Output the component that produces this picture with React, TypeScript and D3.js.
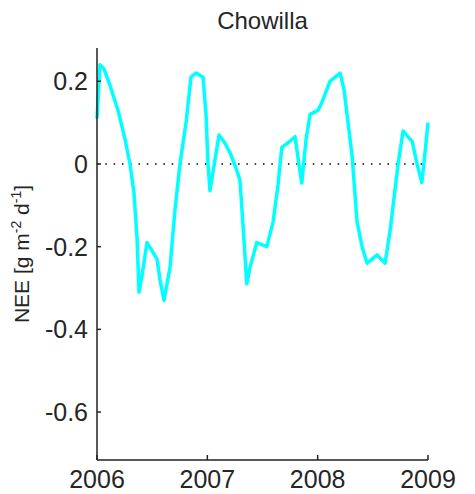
import { useEffect, useRef } from "react"
import * as d3 from "d3"

// decimal year of each sample
const years = [
  2006.0, 2006.027, 2006.063, 2006.118, 2006.19, 2006.254, 2006.299, 2006.335, 2006.363, 2006.381,
  2006.408, 2006.453, 2006.499, 2006.544, 2006.571, 2006.607, 2006.662, 2006.707, 2006.752, 2006.807,
  2006.852, 2006.897, 2006.961, 2006.988, 2007.006, 2007.024, 2007.051, 2007.106, 2007.16, 2007.206,
  2007.267, 2007.296, 2007.324, 2007.357, 2007.387, 2007.448, 2007.539, 2007.596, 2007.641, 2007.675,
  2007.75, 2007.795, 2007.83, 2007.856, 2007.895, 2007.931, 2008.004, 2008.04, 2008.112, 2008.203,
  2008.239, 2008.266, 2008.312, 2008.357, 2008.403, 2008.448, 2008.493, 2008.539, 2008.611, 2008.657,
  2008.684, 2008.729, 2008.774, 2008.82, 2008.856, 2008.901, 2008.944, 2008.974, 2009.0,
]

const nee = [
  0.11, 0.24, 0.23, 0.19, 0.13, 0.06, 0.0, -0.07, -0.18, -0.31,
  -0.27, -0.19, -0.21, -0.23, -0.28, -0.33, -0.25, -0.11, 0.0, 0.1,
  0.21, 0.22, 0.21, 0.12, 0.0, -0.065, -0.02, 0.07, 0.05, 0.027,
  -0.015, -0.04, -0.15, -0.29, -0.25, -0.19, -0.2, -0.14, -0.05, 0.04,
  0.055, 0.066, 0.0, -0.046, 0.06, 0.12, 0.13, 0.15, 0.2, 0.22,
  0.18, 0.12, 0.02, -0.14, -0.2, -0.24, -0.23, -0.22, -0.24, -0.16,
  -0.1, 0.0, 0.08, 0.065, 0.055, 0.0, -0.045, 0.03, 0.1,
]

const xTicks = [2006, 2007, 2008, 2009]
const yTicks = [0.2, 0, -0.2, -0.4, -0.6]
const yTickLabels = ["0.2", "0", "-0.2", "-0.4", "-0.6"]

export default function App() {
  const svgRef = useRef<SVGSVGElement | null>(null)

  useEffect(() => {
    if (!svgRef.current) return
    const svg = d3.select(svgRef.current)
    svg.selectAll("*").remove()

    const width = 475
    const height = 494
    const left = 97
    const right = 428
    const top = 48
    const bottom = 460
    const font = "Arial, 'Liberation Sans', sans-serif"
    const textColor = "#262626"

    svg.attr("width", width).attr("height", height).attr("viewBox", `0 0 ${width} ${height}`)

    const x = d3.scaleLinear().domain([2006, 2009]).range([left, right])
    const y = d3.scaleLinear().domain([-0.716, 0.2805]).range([bottom, top])

    // zero reference line
    svg
      .append("line")
      .attr("x1", left)
      .attr("x2", right)
      .attr("y1", y(0))
      .attr("y2", y(0))
      .attr("stroke", "#000")
      .attr("stroke-width", 1.5)
      .attr("stroke-dasharray", "1.5 6.8")

    const data = years.map((t, i) => [t, nee[i]] as [number, number])
    const line = d3
      .line<[number, number]>()
      .x((d) => x(d[0]))
      .y((d) => y(d[1]))

    svg
      .append("path")
      .datum(data)
      .attr("d", line)
      .attr("fill", "none")
      .attr("stroke", "#00ffff")
      .attr("stroke-width", 3.5)
      .attr("stroke-linejoin", "round")

    // axes, MATLAB style with inward ticks
    const axisColor = "#222"
    svg
      .append("line")
      .attr("x1", left)
      .attr("x2", left)
      .attr("y1", top)
      .attr("y2", bottom)
      .attr("stroke", axisColor)
      .attr("stroke-width", 1.5)
    svg
      .append("line")
      .attr("x1", left)
      .attr("x2", right)
      .attr("y1", bottom)
      .attr("y2", bottom)
      .attr("stroke", axisColor)
      .attr("stroke-width", 1.5)

    svg
      .append("g")
      .selectAll("line")
      .data(yTicks)
      .join("line")
      .attr("x1", left)
      .attr("x2", left + 4)
      .attr("y1", (d) => y(d))
      .attr("y2", (d) => y(d))
      .attr("stroke", axisColor)
      .attr("stroke-width", 1.5)

    svg
      .append("g")
      .selectAll("text")
      .data(yTicks)
      .join("text")
      .text((_, i) => yTickLabels[i])
      .attr("x", left - 9)
      .attr("y", (d) => y(d))
      .attr("dy", "0.36em")
      .attr("text-anchor", "end")
      .attr("font-family", font)
      .attr("font-size", 25)
      .attr("fill", textColor)

    svg
      .append("g")
      .selectAll("line")
      .data(xTicks)
      .join("line")
      .attr("x1", (d) => x(d))
      .attr("x2", (d) => x(d))
      .attr("y1", bottom)
      .attr("y2", bottom - 5)
      .attr("stroke", axisColor)
      .attr("stroke-width", 1.5)

    svg
      .append("g")
      .selectAll("text")
      .data(xTicks)
      .join("text")
      .text((d) => String(d))
      .attr("x", (d) => x(d))
      .attr("y", 488)
      .attr("text-anchor", "middle")
      .attr("font-family", font)
      .attr("font-size", 25)
      .attr("fill", textColor)

    svg
      .append("text")
      .text("Chowilla")
      .attr("x", (left + right) / 2)
      .attr("y", 29)
      .attr("text-anchor", "middle")
      .attr("font-family", font)
      .attr("font-size", 24)
      .attr("fill", textColor)

    const label = svg
      .append("text")
      .attr("transform", `translate(29, ${(top + bottom) / 2}) rotate(-90)`)
      .attr("text-anchor", "middle")
      .attr("font-family", font)
      .attr("font-size", 21)
      .attr("fill", textColor)
    label.append("tspan").text("NEE [g m")
    label.append("tspan").text("-2").attr("dy", -8).attr("font-size", 14)
    label.append("tspan").text(" d").attr("dy", 8)
    label.append("tspan").text("-1").attr("dy", -8).attr("font-size", 14)
    label.append("tspan").text("]").attr("dy", 8)
  }, [])

  return <svg ref={svgRef} style={{ position: "absolute", left: 0, top: 0 }} />
}
